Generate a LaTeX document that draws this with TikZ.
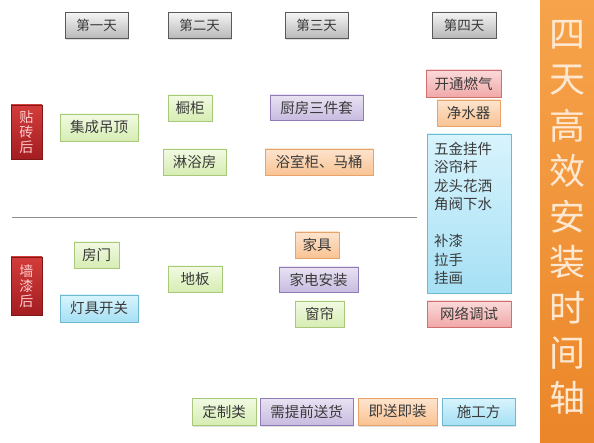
\documentclass[tikz,border=0pt]{standalone}
\usepackage{fontspec}
\newfontfamily\cjk{Noto Sans CJK SC}
\usetikzlibrary{shadows}

\definecolor{grnL}{HTML}{F2FAE3}\definecolor{grnD}{HTML}{D6EDB2}\definecolor{grnB}{HTML}{A9C97A}
\definecolor{purL}{HTML}{E9E3F3}\definecolor{purD}{HTML}{C8BBE0}\definecolor{purB}{HTML}{8F7BB5}
\definecolor{orgL}{HTML}{FDE4CE}\definecolor{orgD}{HTML}{F9C393}\definecolor{orgB}{HTML}{E6A46C}
\definecolor{bluL}{HTML}{D8F4FD}\definecolor{bluD}{HTML}{A6E0F4}\definecolor{bluB}{HTML}{6EB9D0}
\definecolor{pnkL}{HTML}{FBDADA}\definecolor{pnkD}{HTML}{F1A8A8}\definecolor{pnkB}{HTML}{CF6F6F}
\definecolor{redL}{HTML}{D33C3A}\definecolor{redD}{HTML}{A31D21}
\definecolor{barL}{HTML}{F6A34B}\definecolor{barD}{HTML}{EB8629}
\definecolor{ink}{HTML}{3A3A3A}

\begin{document}
\begin{tikzpicture}[
  x=1pt, y=-1pt,
  >=stealth,
  every node/.style={inner sep=0pt, text=ink, font=\cjk\fontsize{14.5}{17}\selectfont},
  shade/.style={drop shadow={opacity=0.25, shadow xshift=1pt, shadow yshift=-1.5pt}},
  item/.style={shade, minimum height=26pt},
  day/.style={item, draw=black!65, top color=black!4, bottom color=black!28, minimum width=63pt,
    font=\cjk\fontsize{13.5}{16}\selectfont},
  grn/.style={item, draw=grnB, top color=grnL, bottom color=grnD},
  pur/.style={item, draw=purB, top color=purL, bottom color=purD},
  org/.style={item, draw=orgB, top color=orgL, bottom color=orgD},
  blu/.style={item, draw=bluB, top color=bluL, bottom color=bluD},
  pnk/.style={item, draw=pnkB, top color=pnkL, bottom color=pnkD},
  phase/.style={shade, draw=redD!80!black, top color=redL, bottom color=redD, minimum width=31pt,
    text=red!20!white, align=center, font=\cjk\fontsize{14}{15}\selectfont}
]
  \useasboundingbox[fill=white] (0,0) rectangle (594,443);

  % title bar
  \fill[top color=barL, bottom color=barD] (540,0) rectangle (594,443);
  \foreach \ch [count=\i from 0] in {四,天,高,效,安,装,时,间,轴}
    \node[text=orange!18!white, font=\cjk\fontsize{36}{36}\selectfont] (t\i) at (567,35+45.4*\i) {\ch};

  % days
  \node[day] (d1) at (96.5,25.5) {第一天};
  \node[day] (d2) at (199.5,25.5) {第二天};
  \node[day] (d3) at (316.5,25.5) {第三天};
  \node[day, minimum width=64pt] (d4) at (464,25) {第四天};

  % phases
  \node[phase, minimum height=54pt] (tile) at (26.5,132) {贴\\砖\\后};
  \node[phase, minimum height=58pt] (paint) at (26.5,286) {墙\\漆\\后};

  \coordinate (sepL) at (12,217);
  \coordinate (sepR) at (417,217);
  \draw[black!45, line width=0.8pt] (sepL) -- (sepR);

  % after tiling
  \node[grn, minimum width=78pt, minimum height=27pt] (ceil) at (99,127.5) {集成吊顶};
  \node[grn, minimum width=44pt] (cab) at (190,108) {橱柜};
  \node[grn, minimum width=63pt] (shower) at (194.5,162) {淋浴房};
  \node[pur, minimum width=93pt, minimum height=25pt] (kit) at (316.5,107.5) {厨房三件套};
  \node[org, minimum width=108pt] (bath) at (319,162) {浴室柜、马桶};
  \node[pnk, minimum width=75pt, minimum height=27pt] (gas) at (463.5,83.5) {开通燃气};
  \node[org, minimum width=63pt] (water) at (468.5,113) {净水器};
  \node[blu, minimum width=84pt, minimum height=159pt, align=left, text width=70pt,
    font=\cjk\fontsize{14.5}{18.5}\selectfont] (hard) at (469,213.5)
    {五金挂件\\浴帘杆\\龙头花洒\\角阀下水\\[18.5pt]补漆\\拉手\\挂画};

  % after painting
  \node[grn, minimum width=45pt] (door) at (96.5,255) {房门};
  \node[blu, minimum width=78pt, minimum height=27pt] (lamp) at (99,308.5) {灯具开关};
  \node[grn, minimum width=54pt] (floor) at (195,279) {地板};
  \node[org, minimum width=44pt] (furn) at (317,245) {家具};
  \node[pur, minimum width=79pt, minimum height=25pt] (appl) at (318.5,279.5) {家电安装};
  \node[grn, minimum width=49pt] (curt) at (319.5,314) {窗帘};
  \node[pnk, minimum width=84pt] (net) at (469,314) {网络调试};

  % legend
  \node[grn, minimum width=64pt, minimum height=27pt] (lg1) at (224,411.5) {定制类};
  \node[pur, minimum width=93pt, minimum height=27pt] (lg2) at (306.5,411.5) {需提前送货};
  \node[org, minimum width=79pt, minimum height=27pt] (lg3) at (397.5,411.5) {即送即装};
  \node[blu, minimum width=73pt, minimum height=27pt] (lg4) at (478.5,411.5) {施工方};
\end{tikzpicture}
\end{document}
